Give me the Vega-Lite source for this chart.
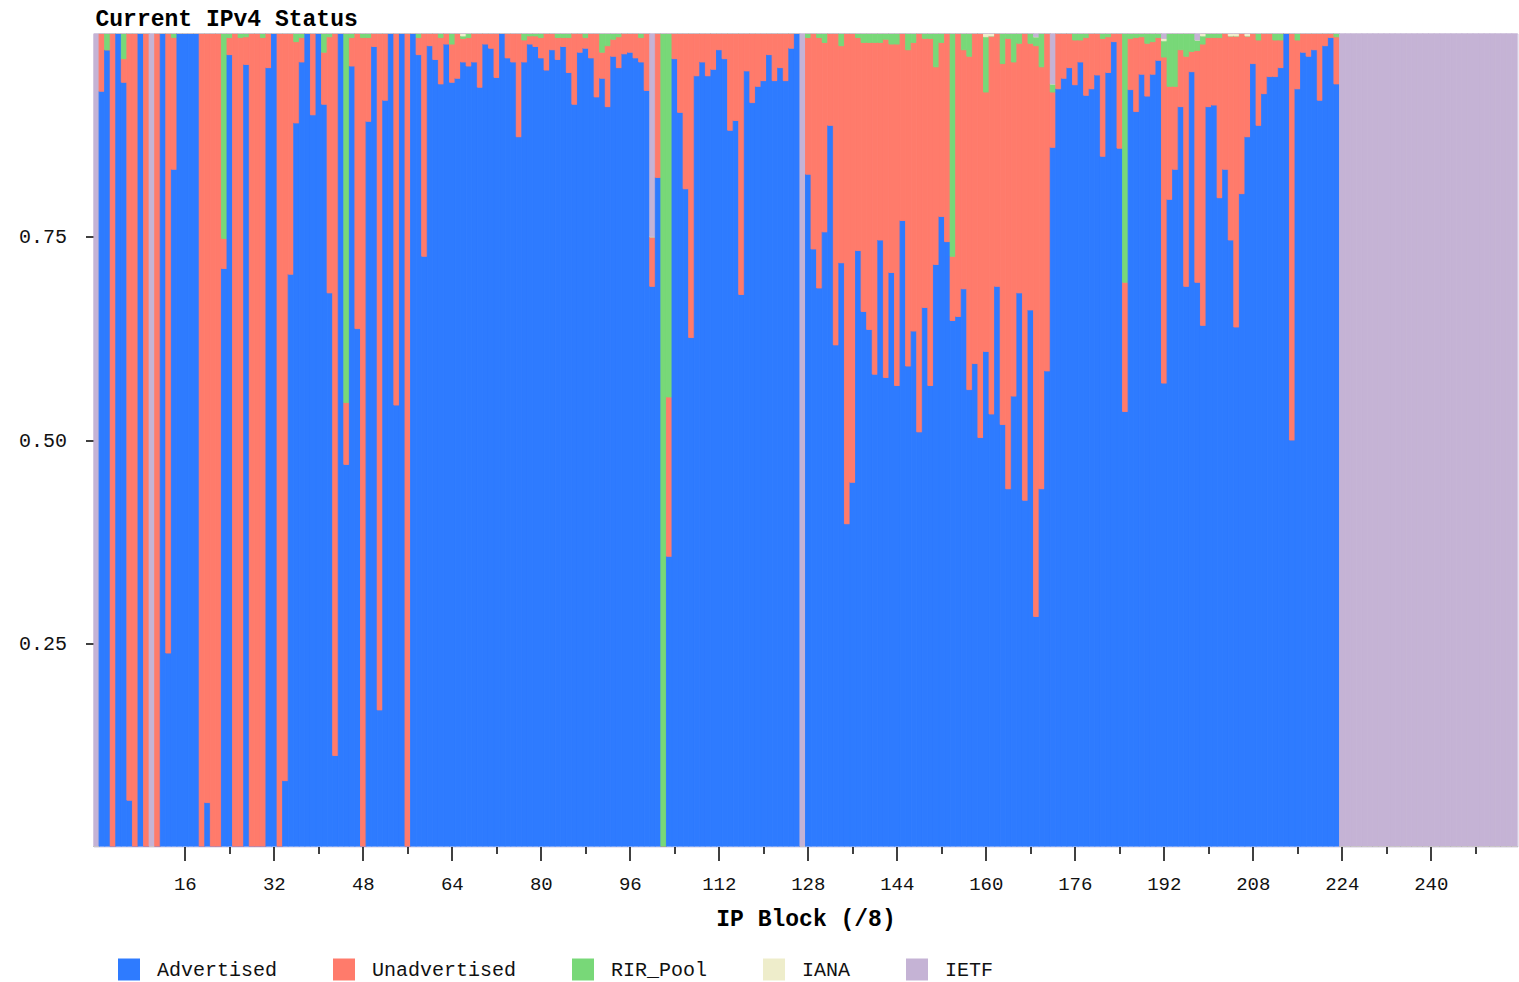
{
"$schema": "https://vega.github.io/schema/vega-lite/v6.json",
"width": 1424,
"height": 813,
"autosize": "none",
"padding": {"left": 93.5, "top": 33.5, "right": 1.5, "bottom": 135.5},
"background": "white",
"config": {"view": {"stroke": "#d4cce2", "strokeWidth": 1}},
"title": {"text": "Current IPv4 Status", "anchor": "start", "frame": "group", "font": "Liberation Mono", "fontSize": 23, "fontWeight": "bold", "color": "#000", "offset": 3, "dx": 2},
"datasets": {
"rank": [{"key":"Advertised","rank":1},{"key":"Unadvertised","rank":2},{"key":"RIR_Pool","rank":3},{"key":"IANA","rank":4},{"key":"IETF","rank":5}],
"blocks": [
{"b":0,"Advertised":0,"Unadvertised":0,"RIR_Pool":0,"IANA":0,"IETF":1},
{"b":1,"Advertised":0.929,"Unadvertised":0.071,"RIR_Pool":0,"IANA":0,"IETF":0},
{"b":2,"Advertised":0.98,"Unadvertised":0,"RIR_Pool":0.02,"IANA":0,"IETF":0},
{"b":3,"Advertised":0,"Unadvertised":1,"RIR_Pool":0,"IANA":0,"IETF":0},
{"b":4,"Advertised":1,"Unadvertised":0,"RIR_Pool":0,"IANA":0,"IETF":0},
{"b":5,"Advertised":0.94,"Unadvertised":0.029,"RIR_Pool":0.031,"IANA":0,"IETF":0},
{"b":6,"Advertised":0.057,"Unadvertised":0.943,"RIR_Pool":0,"IANA":0,"IETF":0},
{"b":7,"Advertised":0,"Unadvertised":1,"RIR_Pool":0,"IANA":0,"IETF":0},
{"b":8,"Advertised":1,"Unadvertised":0,"RIR_Pool":0,"IANA":0,"IETF":0},
{"b":9,"Advertised":0,"Unadvertised":1,"RIR_Pool":0,"IANA":0,"IETF":0},
{"b":10,"Advertised":0,"Unadvertised":0,"RIR_Pool":0,"IANA":0,"IETF":1},
{"b":11,"Advertised":0,"Unadvertised":1,"RIR_Pool":0,"IANA":0,"IETF":0},
{"b":12,"Advertised":1,"Unadvertised":0,"RIR_Pool":0,"IANA":0,"IETF":0},
{"b":13,"Advertised":0.238,"Unadvertised":0.762,"RIR_Pool":0,"IANA":0,"IETF":0},
{"b":14,"Advertised":0.833,"Unadvertised":0.162,"RIR_Pool":0.005,"IANA":0,"IETF":0},
{"b":15,"Advertised":1,"Unadvertised":0,"RIR_Pool":0,"IANA":0,"IETF":0},
{"b":16,"Advertised":1,"Unadvertised":0,"RIR_Pool":0,"IANA":0,"IETF":0},
{"b":17,"Advertised":1,"Unadvertised":0,"RIR_Pool":0,"IANA":0,"IETF":0},
{"b":18,"Advertised":1,"Unadvertised":0,"RIR_Pool":0,"IANA":0,"IETF":0},
{"b":19,"Advertised":0,"Unadvertised":1,"RIR_Pool":0,"IANA":0,"IETF":0},
{"b":20,"Advertised":0.054,"Unadvertised":0.946,"RIR_Pool":0,"IANA":0,"IETF":0},
{"b":21,"Advertised":0,"Unadvertised":1,"RIR_Pool":0,"IANA":0,"IETF":0},
{"b":22,"Advertised":0,"Unadvertised":1,"RIR_Pool":0,"IANA":0,"IETF":0},
{"b":23,"Advertised":0.711,"Unadvertised":0.037,"RIR_Pool":0.252,"IANA":0,"IETF":0},
{"b":24,"Advertised":0.974,"Unadvertised":0.021,"RIR_Pool":0.005,"IANA":0,"IETF":0},
{"b":25,"Advertised":0,"Unadvertised":1,"RIR_Pool":0,"IANA":0,"IETF":0},
{"b":26,"Advertised":0,"Unadvertised":0.995,"RIR_Pool":0.005,"IANA":0,"IETF":0},
{"b":27,"Advertised":0.962,"Unadvertised":0.034,"RIR_Pool":0.004,"IANA":0,"IETF":0},
{"b":28,"Advertised":0,"Unadvertised":1,"RIR_Pool":0,"IANA":0,"IETF":0},
{"b":29,"Advertised":0,"Unadvertised":1,"RIR_Pool":0,"IANA":0,"IETF":0},
{"b":30,"Advertised":0,"Unadvertised":0.995,"RIR_Pool":0.005,"IANA":0,"IETF":0},
{"b":31,"Advertised":0.958,"Unadvertised":0.042,"RIR_Pool":0,"IANA":0,"IETF":0},
{"b":32,"Advertised":1,"Unadvertised":0,"RIR_Pool":0,"IANA":0,"IETF":0},
{"b":33,"Advertised":0,"Unadvertised":1,"RIR_Pool":0,"IANA":0,"IETF":0},
{"b":34,"Advertised":0.081,"Unadvertised":0.919,"RIR_Pool":0,"IANA":0,"IETF":0},
{"b":35,"Advertised":0.704,"Unadvertised":0.296,"RIR_Pool":0,"IANA":0,"IETF":0},
{"b":36,"Advertised":0.89,"Unadvertised":0.1,"RIR_Pool":0.01,"IANA":0,"IETF":0},
{"b":37,"Advertised":0.965,"Unadvertised":0.03,"RIR_Pool":0.005,"IANA":0,"IETF":0},
{"b":38,"Advertised":1,"Unadvertised":0,"RIR_Pool":0,"IANA":0,"IETF":0},
{"b":39,"Advertised":0.9,"Unadvertised":0.1,"RIR_Pool":0,"IANA":0,"IETF":0},
{"b":40,"Advertised":1,"Unadvertised":0,"RIR_Pool":0,"IANA":0,"IETF":0},
{"b":41,"Advertised":0.913,"Unadvertised":0.064,"RIR_Pool":0.023,"IANA":0,"IETF":0},
{"b":42,"Advertised":0.681,"Unadvertised":0.315,"RIR_Pool":0.004,"IANA":0,"IETF":0},
{"b":43,"Advertised":0.112,"Unadvertised":0.888,"RIR_Pool":0,"IANA":0,"IETF":0},
{"b":44,"Advertised":1,"Unadvertised":0,"RIR_Pool":0,"IANA":0,"IETF":0},
{"b":45,"Advertised":0.47,"Unadvertised":0.076,"RIR_Pool":0.454,"IANA":0,"IETF":0},
{"b":46,"Advertised":0.96,"Unadvertised":0.035,"RIR_Pool":0.005,"IANA":0,"IETF":0},
{"b":47,"Advertised":0.637,"Unadvertised":0.363,"RIR_Pool":0,"IANA":0,"IETF":0},
{"b":48,"Advertised":0,"Unadvertised":0.995,"RIR_Pool":0.005,"IANA":0,"IETF":0},
{"b":49,"Advertised":0.892,"Unadvertised":0.103,"RIR_Pool":0.005,"IANA":0,"IETF":0},
{"b":50,"Advertised":0.984,"Unadvertised":0.016,"RIR_Pool":0,"IANA":0,"IETF":0},
{"b":51,"Advertised":0.168,"Unadvertised":0.832,"RIR_Pool":0,"IANA":0,"IETF":0},
{"b":52,"Advertised":0.918,"Unadvertised":0.082,"RIR_Pool":0,"IANA":0,"IETF":0},
{"b":53,"Advertised":1,"Unadvertised":0,"RIR_Pool":0,"IANA":0,"IETF":0},
{"b":54,"Advertised":0.543,"Unadvertised":0.457,"RIR_Pool":0,"IANA":0,"IETF":0},
{"b":55,"Advertised":1,"Unadvertised":0,"RIR_Pool":0,"IANA":0,"IETF":0},
{"b":56,"Advertised":0,"Unadvertised":1,"RIR_Pool":0,"IANA":0,"IETF":0},
{"b":57,"Advertised":1,"Unadvertised":0,"RIR_Pool":0,"IANA":0,"IETF":0},
{"b":58,"Advertised":0.974,"Unadvertised":0.021,"RIR_Pool":0.005,"IANA":0,"IETF":0},
{"b":59,"Advertised":0.726,"Unadvertised":0.274,"RIR_Pool":0,"IANA":0,"IETF":0},
{"b":60,"Advertised":0.985,"Unadvertised":0.015,"RIR_Pool":0,"IANA":0,"IETF":0},
{"b":61,"Advertised":0.968,"Unadvertised":0.032,"RIR_Pool":0,"IANA":0,"IETF":0},
{"b":62,"Advertised":0.938,"Unadvertised":0.057,"RIR_Pool":0.005,"IANA":0,"IETF":0},
{"b":63,"Advertised":0.987,"Unadvertised":0.013,"RIR_Pool":0,"IANA":0,"IETF":0},
{"b":64,"Advertised":0.94,"Unadvertised":0.047,"RIR_Pool":0.013,"IANA":0,"IETF":0},
{"b":65,"Advertised":0.945,"Unadvertised":0.055,"RIR_Pool":0,"IANA":0,"IETF":0},
{"b":66,"Advertised":0.965,"Unadvertised":0.029,"RIR_Pool":0.003,"IANA":0.003,"IETF":0},
{"b":67,"Advertised":0.96,"Unadvertised":0.035,"RIR_Pool":0.005,"IANA":0,"IETF":0},
{"b":68,"Advertised":0.965,"Unadvertised":0.035,"RIR_Pool":0,"IANA":0,"IETF":0},
{"b":69,"Advertised":0.934,"Unadvertised":0.066,"RIR_Pool":0,"IANA":0,"IETF":0},
{"b":70,"Advertised":0.987,"Unadvertised":0.013,"RIR_Pool":0,"IANA":0,"IETF":0},
{"b":71,"Advertised":0.982,"Unadvertised":0.018,"RIR_Pool":0,"IANA":0,"IETF":0},
{"b":72,"Advertised":0.946,"Unadvertised":0.054,"RIR_Pool":0,"IANA":0,"IETF":0},
{"b":73,"Advertised":1,"Unadvertised":0,"RIR_Pool":0,"IANA":0,"IETF":0},
{"b":74,"Advertised":0.97,"Unadvertised":0.03,"RIR_Pool":0,"IANA":0,"IETF":0},
{"b":75,"Advertised":0.965,"Unadvertised":0.035,"RIR_Pool":0,"IANA":0,"IETF":0},
{"b":76,"Advertised":0.873,"Unadvertised":0.127,"RIR_Pool":0,"IANA":0,"IETF":0},
{"b":77,"Advertised":0.965,"Unadvertised":0.027,"RIR_Pool":0.008,"IANA":0,"IETF":0},
{"b":78,"Advertised":0.987,"Unadvertised":0.01,"RIR_Pool":0.003,"IANA":0,"IETF":0},
{"b":79,"Advertised":0.984,"Unadvertised":0.013,"RIR_Pool":0.003,"IANA":0,"IETF":0},
{"b":80,"Advertised":0.97,"Unadvertised":0.025,"RIR_Pool":0.005,"IANA":0,"IETF":0},
{"b":81,"Advertised":0.955,"Unadvertised":0.045,"RIR_Pool":0,"IANA":0,"IETF":0},
{"b":82,"Advertised":0.98,"Unadvertised":0.02,"RIR_Pool":0,"IANA":0,"IETF":0},
{"b":83,"Advertised":0.968,"Unadvertised":0.027,"RIR_Pool":0.005,"IANA":0,"IETF":0},
{"b":84,"Advertised":0.984,"Unadvertised":0.011,"RIR_Pool":0.005,"IANA":0,"IETF":0},
{"b":85,"Advertised":0.952,"Unadvertised":0.043,"RIR_Pool":0.005,"IANA":0,"IETF":0},
{"b":86,"Advertised":0.913,"Unadvertised":0.087,"RIR_Pool":0,"IANA":0,"IETF":0},
{"b":87,"Advertised":0.977,"Unadvertised":0.023,"RIR_Pool":0,"IANA":0,"IETF":0},
{"b":88,"Advertised":0.982,"Unadvertised":0.013,"RIR_Pool":0.005,"IANA":0,"IETF":0},
{"b":89,"Advertised":0.97,"Unadvertised":0.03,"RIR_Pool":0,"IANA":0,"IETF":0},
{"b":90,"Advertised":0.922,"Unadvertised":0.078,"RIR_Pool":0,"IANA":0,"IETF":0},
{"b":91,"Advertised":0.945,"Unadvertised":0.032,"RIR_Pool":0.023,"IANA":0,"IETF":0},
{"b":92,"Advertised":0.91,"Unadvertised":0.075,"RIR_Pool":0.015,"IANA":0,"IETF":0},
{"b":93,"Advertised":0.972,"Unadvertised":0.021,"RIR_Pool":0.007,"IANA":0,"IETF":0},
{"b":94,"Advertised":0.958,"Unadvertised":0.038,"RIR_Pool":0.004,"IANA":0,"IETF":0},
{"b":95,"Advertised":0.975,"Unadvertised":0.025,"RIR_Pool":0,"IANA":0,"IETF":0},
{"b":96,"Advertised":0.977,"Unadvertised":0.023,"RIR_Pool":0,"IANA":0,"IETF":0},
{"b":97,"Advertised":0.97,"Unadvertised":0.03,"RIR_Pool":0,"IANA":0,"IETF":0},
{"b":98,"Advertised":0.965,"Unadvertised":0.03,"RIR_Pool":0.005,"IANA":0,"IETF":0},
{"b":99,"Advertised":0.93,"Unadvertised":0.07,"RIR_Pool":0,"IANA":0,"IETF":0},
{"b":100,"Advertised":0.689,"Unadvertised":0.061,"RIR_Pool":0,"IANA":0,"IETF":0.25},
{"b":101,"Advertised":0.823,"Unadvertised":0.177,"RIR_Pool":0,"IANA":0,"IETF":0},
{"b":102,"Advertised":0,"Unadvertised":0,"RIR_Pool":1,"IANA":0,"IETF":0},
{"b":103,"Advertised":0.357,"Unadvertised":0.196,"RIR_Pool":0.447,"IANA":0,"IETF":0},
{"b":104,"Advertised":0.969,"Unadvertised":0.031,"RIR_Pool":0,"IANA":0,"IETF":0},
{"b":105,"Advertised":0.903,"Unadvertised":0.097,"RIR_Pool":0,"IANA":0,"IETF":0},
{"b":106,"Advertised":0.809,"Unadvertised":0.191,"RIR_Pool":0,"IANA":0,"IETF":0},
{"b":107,"Advertised":0.626,"Unadvertised":0.374,"RIR_Pool":0,"IANA":0,"IETF":0},
{"b":108,"Advertised":0.948,"Unadvertised":0.052,"RIR_Pool":0,"IANA":0,"IETF":0},
{"b":109,"Advertised":0.965,"Unadvertised":0.035,"RIR_Pool":0,"IANA":0,"IETF":0},
{"b":110,"Advertised":0.948,"Unadvertised":0.052,"RIR_Pool":0,"IANA":0,"IETF":0},
{"b":111,"Advertised":0.956,"Unadvertised":0.044,"RIR_Pool":0,"IANA":0,"IETF":0},
{"b":112,"Advertised":0.98,"Unadvertised":0.02,"RIR_Pool":0,"IANA":0,"IETF":0},
{"b":113,"Advertised":0.969,"Unadvertised":0.031,"RIR_Pool":0,"IANA":0,"IETF":0},
{"b":114,"Advertised":0.881,"Unadvertised":0.119,"RIR_Pool":0,"IANA":0,"IETF":0},
{"b":115,"Advertised":0.893,"Unadvertised":0.107,"RIR_Pool":0,"IANA":0,"IETF":0},
{"b":116,"Advertised":0.679,"Unadvertised":0.321,"RIR_Pool":0,"IANA":0,"IETF":0},
{"b":117,"Advertised":0.954,"Unadvertised":0.046,"RIR_Pool":0,"IANA":0,"IETF":0},
{"b":118,"Advertised":0.915,"Unadvertised":0.085,"RIR_Pool":0,"IANA":0,"IETF":0},
{"b":119,"Advertised":0.935,"Unadvertised":0.065,"RIR_Pool":0,"IANA":0,"IETF":0},
{"b":120,"Advertised":0.942,"Unadvertised":0.058,"RIR_Pool":0,"IANA":0,"IETF":0},
{"b":121,"Advertised":0.974,"Unadvertised":0.026,"RIR_Pool":0,"IANA":0,"IETF":0},
{"b":122,"Advertised":0.942,"Unadvertised":0.058,"RIR_Pool":0,"IANA":0,"IETF":0},
{"b":123,"Advertised":0.958,"Unadvertised":0.042,"RIR_Pool":0,"IANA":0,"IETF":0},
{"b":124,"Advertised":0.942,"Unadvertised":0.058,"RIR_Pool":0,"IANA":0,"IETF":0},
{"b":125,"Advertised":0.982,"Unadvertised":0.018,"RIR_Pool":0,"IANA":0,"IETF":0},
{"b":126,"Advertised":1,"Unadvertised":0,"RIR_Pool":0,"IANA":0,"IETF":0},
{"b":127,"Advertised":0,"Unadvertised":0,"RIR_Pool":0,"IANA":0,"IETF":1},
{"b":128,"Advertised":0.827,"Unadvertised":0.168,"RIR_Pool":0.005,"IANA":0,"IETF":0},
{"b":129,"Advertised":0.735,"Unadvertised":0.265,"RIR_Pool":0,"IANA":0,"IETF":0},
{"b":130,"Advertised":0.687,"Unadvertised":0.308,"RIR_Pool":0.005,"IANA":0,"IETF":0},
{"b":131,"Advertised":0.756,"Unadvertised":0.233,"RIR_Pool":0.011,"IANA":0,"IETF":0},
{"b":132,"Advertised":0.887,"Unadvertised":0.113,"RIR_Pool":0,"IANA":0,"IETF":0},
{"b":133,"Advertised":0.617,"Unadvertised":0.383,"RIR_Pool":0,"IANA":0,"IETF":0},
{"b":134,"Advertised":0.718,"Unadvertised":0.267,"RIR_Pool":0.015,"IANA":0,"IETF":0},
{"b":135,"Advertised":0.397,"Unadvertised":0.603,"RIR_Pool":0,"IANA":0,"IETF":0},
{"b":136,"Advertised":0.448,"Unadvertised":0.552,"RIR_Pool":0,"IANA":0,"IETF":0},
{"b":137,"Advertised":0.733,"Unadvertised":0.262,"RIR_Pool":0.005,"IANA":0,"IETF":0},
{"b":138,"Advertised":0.658,"Unadvertised":0.331,"RIR_Pool":0.011,"IANA":0,"IETF":0},
{"b":139,"Advertised":0.636,"Unadvertised":0.353,"RIR_Pool":0.011,"IANA":0,"IETF":0},
{"b":140,"Advertised":0.581,"Unadvertised":0.408,"RIR_Pool":0.011,"IANA":0,"IETF":0},
{"b":141,"Advertised":0.746,"Unadvertised":0.243,"RIR_Pool":0.011,"IANA":0,"IETF":0},
{"b":142,"Advertised":0.577,"Unadvertised":0.416,"RIR_Pool":0.007,"IANA":0,"IETF":0},
{"b":143,"Advertised":0.706,"Unadvertised":0.281,"RIR_Pool":0.013,"IANA":0,"IETF":0},
{"b":144,"Advertised":0.567,"Unadvertised":0.42,"RIR_Pool":0.013,"IANA":0,"IETF":0},
{"b":145,"Advertised":0.77,"Unadvertised":0.23,"RIR_Pool":0,"IANA":0,"IETF":0},
{"b":146,"Advertised":0.591,"Unadvertised":0.389,"RIR_Pool":0.02,"IANA":0,"IETF":0},
{"b":147,"Advertised":0.634,"Unadvertised":0.355,"RIR_Pool":0.011,"IANA":0,"IETF":0},
{"b":148,"Advertised":0.51,"Unadvertised":0.49,"RIR_Pool":0,"IANA":0,"IETF":0},
{"b":149,"Advertised":0.663,"Unadvertised":0.331,"RIR_Pool":0.006,"IANA":0,"IETF":0},
{"b":150,"Advertised":0.567,"Unadvertised":0.427,"RIR_Pool":0.006,"IANA":0,"IETF":0},
{"b":151,"Advertised":0.716,"Unadvertised":0.243,"RIR_Pool":0.041,"IANA":0,"IETF":0},
{"b":152,"Advertised":0.775,"Unadvertised":0.214,"RIR_Pool":0.011,"IANA":0,"IETF":0},
{"b":153,"Advertised":0.744,"Unadvertised":0.256,"RIR_Pool":0,"IANA":0,"IETF":0},
{"b":154,"Advertised":0.647,"Unadvertised":0.079,"RIR_Pool":0.274,"IANA":0,"IETF":0},
{"b":155,"Advertised":0.652,"Unadvertised":0.348,"RIR_Pool":0,"IANA":0,"IETF":0},
{"b":156,"Advertised":0.686,"Unadvertised":0.294,"RIR_Pool":0.02,"IANA":0,"IETF":0},
{"b":157,"Advertised":0.562,"Unadvertised":0.41,"RIR_Pool":0.028,"IANA":0,"IETF":0},
{"b":158,"Advertised":0.594,"Unadvertised":0.406,"RIR_Pool":0,"IANA":0,"IETF":0},
{"b":159,"Advertised":0.503,"Unadvertised":0.497,"RIR_Pool":0,"IANA":0,"IETF":0},
{"b":160,"Advertised":0.609,"Unadvertised":0.319,"RIR_Pool":0.068,"IANA":0.004,"IETF":0},
{"b":161,"Advertised":0.532,"Unadvertised":0.465,"RIR_Pool":0,"IANA":0.003,"IETF":0},
{"b":162,"Advertised":0.689,"Unadvertised":0.311,"RIR_Pool":0,"IANA":0,"IETF":0},
{"b":163,"Advertised":0.519,"Unadvertised":0.444,"RIR_Pool":0.037,"IANA":0,"IETF":0},
{"b":164,"Advertised":0.44,"Unadvertised":0.554,"RIR_Pool":0.006,"IANA":0,"IETF":0},
{"b":165,"Advertised":0.554,"Unadvertised":0.411,"RIR_Pool":0.035,"IANA":0,"IETF":0},
{"b":166,"Advertised":0.681,"Unadvertised":0.307,"RIR_Pool":0.012,"IANA":0,"IETF":0},
{"b":167,"Advertised":0.426,"Unadvertised":0.574,"RIR_Pool":0,"IANA":0,"IETF":0},
{"b":168,"Advertised":0.66,"Unadvertised":0.328,"RIR_Pool":0.012,"IANA":0,"IETF":0},
{"b":169,"Advertised":0.283,"Unadvertised":0.702,"RIR_Pool":0.011,"IANA":0,"IETF":0.004},
{"b":170,"Advertised":0.44,"Unadvertised":0.519,"RIR_Pool":0.041,"IANA":0,"IETF":0},
{"b":171,"Advertised":0.585,"Unadvertised":0.415,"RIR_Pool":0,"IANA":0,"IETF":0},
{"b":172,"Advertised":0.86,"Unadvertised":0.068,"RIR_Pool":0.01,"IANA":0,"IETF":0.062},
{"b":173,"Advertised":0.932,"Unadvertised":0.068,"RIR_Pool":0,"IANA":0,"IETF":0},
{"b":174,"Advertised":0.945,"Unadvertised":0.055,"RIR_Pool":0,"IANA":0,"IETF":0},
{"b":175,"Advertised":0.958,"Unadvertised":0.042,"RIR_Pool":0,"IANA":0,"IETF":0},
{"b":176,"Advertised":0.937,"Unadvertised":0.055,"RIR_Pool":0.008,"IANA":0,"IETF":0},
{"b":177,"Advertised":0.965,"Unadvertised":0.027,"RIR_Pool":0.008,"IANA":0,"IETF":0},
{"b":178,"Advertised":0.924,"Unadvertised":0.071,"RIR_Pool":0.005,"IANA":0,"IETF":0},
{"b":179,"Advertised":0.932,"Unadvertised":0.068,"RIR_Pool":0,"IANA":0,"IETF":0},
{"b":180,"Advertised":0.949,"Unadvertised":0.051,"RIR_Pool":0,"IANA":0,"IETF":0},
{"b":181,"Advertised":0.849,"Unadvertised":0.145,"RIR_Pool":0.006,"IANA":0,"IETF":0},
{"b":182,"Advertised":0.952,"Unadvertised":0.044,"RIR_Pool":0.004,"IANA":0,"IETF":0},
{"b":183,"Advertised":0.99,"Unadvertised":0.01,"RIR_Pool":0,"IANA":0,"IETF":0},
{"b":184,"Advertised":0.859,"Unadvertised":0.141,"RIR_Pool":0,"IANA":0,"IETF":0},
{"b":185,"Advertised":0.535,"Unadvertised":0.159,"RIR_Pool":0.306,"IANA":0,"IETF":0},
{"b":186,"Advertised":0.931,"Unadvertised":0.063,"RIR_Pool":0.006,"IANA":0,"IETF":0},
{"b":187,"Advertised":0.904,"Unadvertised":0.091,"RIR_Pool":0.005,"IANA":0,"IETF":0},
{"b":188,"Advertised":0.95,"Unadvertised":0.046,"RIR_Pool":0.004,"IANA":0,"IETF":0},
{"b":189,"Advertised":0.923,"Unadvertised":0.065,"RIR_Pool":0.012,"IANA":0,"IETF":0},
{"b":190,"Advertised":0.95,"Unadvertised":0.04,"RIR_Pool":0.01,"IANA":0,"IETF":0},
{"b":191,"Advertised":0.967,"Unadvertised":0.028,"RIR_Pool":0.005,"IANA":0,"IETF":0},
{"b":192,"Advertised":0.57,"Unadvertised":0.401,"RIR_Pool":0.02,"IANA":0.003,"IETF":0.006},
{"b":193,"Advertised":0.796,"Unadvertised":0.139,"RIR_Pool":0.065,"IANA":0,"IETF":0},
{"b":194,"Advertised":0.833,"Unadvertised":0.102,"RIR_Pool":0.065,"IANA":0,"IETF":0},
{"b":195,"Advertised":0.91,"Unadvertised":0.07,"RIR_Pool":0.02,"IANA":0,"IETF":0},
{"b":196,"Advertised":0.689,"Unadvertised":0.283,"RIR_Pool":0.028,"IANA":0,"IETF":0},
{"b":197,"Advertised":0.953,"Unadvertised":0.025,"RIR_Pool":0.022,"IANA":0,"IETF":0},
{"b":198,"Advertised":0.694,"Unadvertised":0.285,"RIR_Pool":0.013,"IANA":0,"IETF":0.008},
{"b":199,"Advertised":0.641,"Unadvertised":0.346,"RIR_Pool":0.01,"IANA":0.003,"IETF":0},
{"b":200,"Advertised":0.91,"Unadvertised":0.085,"RIR_Pool":0.005,"IANA":0,"IETF":0},
{"b":201,"Advertised":0.912,"Unadvertised":0.083,"RIR_Pool":0.005,"IANA":0,"IETF":0},
{"b":202,"Advertised":0.798,"Unadvertised":0.197,"RIR_Pool":0.005,"IANA":0,"IETF":0},
{"b":203,"Advertised":0.833,"Unadvertised":0.167,"RIR_Pool":0,"IANA":0,"IETF":0},
{"b":204,"Advertised":0.746,"Unadvertised":0.251,"RIR_Pool":0,"IANA":0.003,"IETF":0},
{"b":205,"Advertised":0.639,"Unadvertised":0.358,"RIR_Pool":0,"IANA":0.003,"IETF":0},
{"b":206,"Advertised":0.803,"Unadvertised":0.197,"RIR_Pool":0,"IANA":0,"IETF":0},
{"b":207,"Advertised":0.873,"Unadvertised":0.124,"RIR_Pool":0,"IANA":0.003,"IETF":0},
{"b":208,"Advertised":0.963,"Unadvertised":0.037,"RIR_Pool":0,"IANA":0,"IETF":0},
{"b":209,"Advertised":0.887,"Unadvertised":0.105,"RIR_Pool":0.008,"IANA":0,"IETF":0},
{"b":210,"Advertised":0.926,"Unadvertised":0.074,"RIR_Pool":0,"IANA":0,"IETF":0},
{"b":211,"Advertised":0.947,"Unadvertised":0.053,"RIR_Pool":0,"IANA":0,"IETF":0},
{"b":212,"Advertised":0.947,"Unadvertised":0.045,"RIR_Pool":0.008,"IANA":0,"IETF":0},
{"b":213,"Advertised":0.958,"Unadvertised":0.034,"RIR_Pool":0.008,"IANA":0,"IETF":0},
{"b":214,"Advertised":1,"Unadvertised":0,"RIR_Pool":0,"IANA":0,"IETF":0},
{"b":215,"Advertised":0.5,"Unadvertised":0.5,"RIR_Pool":0,"IANA":0,"IETF":0},
{"b":216,"Advertised":0.932,"Unadvertised":0.06,"RIR_Pool":0.008,"IANA":0,"IETF":0},
{"b":217,"Advertised":0.977,"Unadvertised":0.023,"RIR_Pool":0,"IANA":0,"IETF":0},
{"b":218,"Advertised":0.972,"Unadvertised":0.028,"RIR_Pool":0,"IANA":0,"IETF":0},
{"b":219,"Advertised":0.98,"Unadvertised":0.02,"RIR_Pool":0,"IANA":0,"IETF":0},
{"b":220,"Advertised":0.918,"Unadvertised":0.082,"RIR_Pool":0,"IANA":0,"IETF":0},
{"b":221,"Advertised":0.985,"Unadvertised":0.015,"RIR_Pool":0,"IANA":0,"IETF":0},
{"b":222,"Advertised":0.995,"Unadvertised":0.005,"RIR_Pool":0,"IANA":0,"IETF":0},
{"b":223,"Advertised":0.938,"Unadvertised":0.058,"RIR_Pool":0.004,"IANA":0,"IETF":0},
{"b":224,"Advertised":0,"Unadvertised":0,"RIR_Pool":0,"IANA":0,"IETF":1},
{"b":225,"Advertised":0,"Unadvertised":0,"RIR_Pool":0,"IANA":0,"IETF":1},
{"b":226,"Advertised":0,"Unadvertised":0,"RIR_Pool":0,"IANA":0,"IETF":1},
{"b":227,"Advertised":0,"Unadvertised":0,"RIR_Pool":0,"IANA":0,"IETF":1},
{"b":228,"Advertised":0,"Unadvertised":0,"RIR_Pool":0,"IANA":0,"IETF":1},
{"b":229,"Advertised":0,"Unadvertised":0,"RIR_Pool":0,"IANA":0,"IETF":1},
{"b":230,"Advertised":0,"Unadvertised":0,"RIR_Pool":0,"IANA":0,"IETF":1},
{"b":231,"Advertised":0,"Unadvertised":0,"RIR_Pool":0,"IANA":0,"IETF":1},
{"b":232,"Advertised":0,"Unadvertised":0,"RIR_Pool":0,"IANA":0,"IETF":1},
{"b":233,"Advertised":0,"Unadvertised":0,"RIR_Pool":0,"IANA":0,"IETF":1},
{"b":234,"Advertised":0,"Unadvertised":0,"RIR_Pool":0,"IANA":0,"IETF":1},
{"b":235,"Advertised":0,"Unadvertised":0,"RIR_Pool":0,"IANA":0,"IETF":1},
{"b":236,"Advertised":0,"Unadvertised":0,"RIR_Pool":0,"IANA":0,"IETF":1},
{"b":237,"Advertised":0,"Unadvertised":0,"RIR_Pool":0,"IANA":0,"IETF":1},
{"b":238,"Advertised":0,"Unadvertised":0,"RIR_Pool":0,"IANA":0,"IETF":1},
{"b":239,"Advertised":0,"Unadvertised":0,"RIR_Pool":0,"IANA":0,"IETF":1},
{"b":240,"Advertised":0,"Unadvertised":0,"RIR_Pool":0,"IANA":0,"IETF":1},
{"b":241,"Advertised":0,"Unadvertised":0,"RIR_Pool":0,"IANA":0,"IETF":1},
{"b":242,"Advertised":0,"Unadvertised":0,"RIR_Pool":0,"IANA":0,"IETF":1},
{"b":243,"Advertised":0,"Unadvertised":0,"RIR_Pool":0,"IANA":0,"IETF":1},
{"b":244,"Advertised":0,"Unadvertised":0,"RIR_Pool":0,"IANA":0,"IETF":1},
{"b":245,"Advertised":0,"Unadvertised":0,"RIR_Pool":0,"IANA":0,"IETF":1},
{"b":246,"Advertised":0,"Unadvertised":0,"RIR_Pool":0,"IANA":0,"IETF":1},
{"b":247,"Advertised":0,"Unadvertised":0,"RIR_Pool":0,"IANA":0,"IETF":1},
{"b":248,"Advertised":0,"Unadvertised":0,"RIR_Pool":0,"IANA":0,"IETF":1},
{"b":249,"Advertised":0,"Unadvertised":0,"RIR_Pool":0,"IANA":0,"IETF":1},
{"b":250,"Advertised":0,"Unadvertised":0,"RIR_Pool":0,"IANA":0,"IETF":1},
{"b":251,"Advertised":0,"Unadvertised":0,"RIR_Pool":0,"IANA":0,"IETF":1},
{"b":252,"Advertised":0,"Unadvertised":0,"RIR_Pool":0,"IANA":0,"IETF":1},
{"b":253,"Advertised":0,"Unadvertised":0,"RIR_Pool":0,"IANA":0,"IETF":1},
{"b":254,"Advertised":0,"Unadvertised":0,"RIR_Pool":0,"IANA":0,"IETF":1},
{"b":255,"Advertised":0,"Unadvertised":0,"RIR_Pool":0,"IANA":0,"IETF":1}
]},
"data": {"name": "blocks"},
"transform": [
  {"fold": ["Advertised","Unadvertised","RIR_Pool","IANA","IETF"], "as": ["key","value"]},
  {"lookup": "key", "from": {"data": {"name": "rank"}, "key": "key", "fields": ["rank"]}}
],
"mark": {"type": "bar", "clip": true, "strokeWidth": 0.9},
"encoding": {
  "x": {"field": "b", "type": "ordinal", "title": "IP Block (/8)",
        "scale": {"paddingInner": 0, "paddingOuter": 0},
        "axis": {"values": [16,24,32,40,48,56,64,72,80,88,96,104,112,120,128,136,144,152,160,168,176,184,192,200,208,216,224,232,240,248],
                 "labelExpr": "datum.value % 16 === 0 ? datum.label : ''",
                 "labelAngle": 0, "domain": false, "grid": false,
                 "tickSize": {"condition": {"test": "datum.value % 16 === 0", "value": 14}, "value": 7},
                 "tickColor": "#000", "tickWidth": 1.5,
                 "labelFont": "Liberation Mono", "labelFontSize": 19, "labelColor": "#111", "labelPadding": 14,
                 "titleFont": "Liberation Mono", "titleFontSize": 23, "titleFontWeight": "bold", "titleColor": "#000", "titlePadding": 14}},
  "y": {"field": "value", "type": "quantitative", "stack": "zero",
        "scale": {"domain": [0, 1], "nice": false},
        "axis": {"values": [0.25, 0.5, 0.75], "format": ".2f", "title": null, "domain": false, "grid": false,
                 "tickSize": 8, "tickColor": "#000", "tickWidth": 1.5, "labelPadding": 19,
                 "labelFont": "Liberation Mono", "labelFontSize": 20, "labelColor": "#111"}},
  "order": {"field": "rank", "type": "quantitative", "sort": "ascending"},
  "color": {"field": "key", "type": "nominal",
            "scale": {"domain": ["Advertised","Unadvertised","RIR_Pool","IANA","IETF"],
                      "range": ["#2E7BFF","#FF7B6B","#78D878","#EEEDCB","#C5B3D5"]},
            "legend": {"orient": "none", "legendX": 24.5, "legendY": 925, "direction": "horizontal", "title": null,
                       "symbolType": "square", "symbolSize": 484, "symbolStrokeWidth": 0, "symbolOpacity": 1,
                       "labelFont": "Liberation Mono", "labelFontSize": 20, "labelColor": "#111",
                       "labelOffset": 17, "columnPadding": 55, "padding": 0}},
  "stroke": {"field": "key", "type": "nominal",
            "scale": {"domain": ["Advertised","Unadvertised","RIR_Pool","IANA","IETF"],
                      "range": ["#2E7BFF","#FF7B6B","#78D878","#EEEDCB","#C5B3D5"]},
            "legend": null}
}
}
